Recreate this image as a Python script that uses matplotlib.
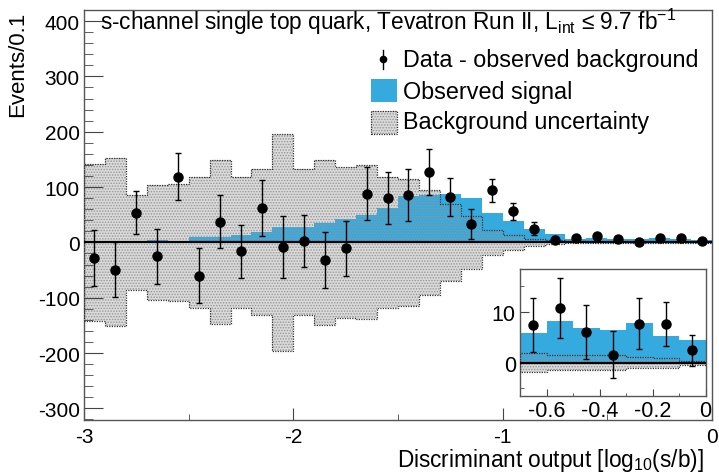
import numpy as np
import matplotlib
matplotlib.use('Agg')
import matplotlib.pyplot as plt
from matplotlib.patches import Rectangle
from matplotlib.lines import Line2D
from matplotlib.ticker import MultipleLocator, FixedLocator

plt.rcParams['font.family'] = ['Liberation Sans', 'DejaVu Sans']
plt.rcParams['mathtext.fontset'] = 'custom'
plt.rcParams['mathtext.rm'] = 'Liberation Sans'
plt.rcParams['mathtext.it'] = 'Liberation Sans:italic'
plt.rcParams['axes.unicode_minus'] = False
plt.rcParams['hatch.linewidth'] = 0.7

# 30 bins of 0.1 in log10(s/b), from -3 to 0
bin_edges = np.linspace(-3, 0, 31)
bin_centers = 0.5 * (bin_edges[:-1] + bin_edges[1:])

# observed signal (blue histogram)
signal = [0, 0, 0, 4, 3, 9, 9, 14, 18, 28,
          27, 34.5, 42, 50, 62, 83, 86, 87, 80, 53,
          38, 24, 15, 5.9, 8.2, 6.8, 6.3, 7.8, 5.3, 4.4]

# background uncertainty (+/- band)
bkg_unc = [142, 152, 86, 104, 106, 119, 148, 119, 132, 196,
           132, 149, 137, 139, 118, 115, 95, 69, 48, 23,
           13, 6, 3.5, 1.9, 1.5, 1.5, 1.5, 1.1, 1.0, 0.4]

# data - observed background
data = [-28, -49, 54, -25, 119, -60, 37, -16, 62, -8,
        2, -32, -11, 88, 81, 86, 127, 82, 34, 94,
        56, 25, 5, 7.4, 10.7, 6.0, 1.6, 7.6, 7.6, 2.4]
data_err = [50, 49, 38, 50, 43, 50, 48, 48, 50, 56,
            47, 50, 49, 48, 47, 47, 41, 35, 27, 21,
            15, 11, 7, 5.3, 5.8, 5.2, 4.5, 5.0, 4.3, 3.0]

blue = '#35aadf'
band_gray = '#dadada'

W, H = 719, 477
fig = plt.figure(figsize=(W / 100, H / 100), dpi=100)


def box(l, t, r, b):
    return [l / W, 1 - b / H, (r - l) / W, (b - t) / H]


def draw(a, first):
    e = bin_edges[first:]
    up = np.array(bkg_unc[first:])
    a.stairs(up, e, baseline=-up, fill=True, color=band_gray, lw=0, zorder=1)
    a.stairs(signal[first:], e, baseline=0, fill=True, color=blue, lw=0, zorder=2)
    a.stairs(up, e, baseline=-up, fill=True, facecolor='none', edgecolor='#959595',
             hatch='......', lw=0, zorder=3)
    a.stairs(up, e, baseline=-up, fill=False, color='#333333', lw=0.9,
             ls=(0, (1, 1)), zorder=4)
    a.axhline(0, color='black', lw=1.6, zorder=5)
    a.errorbar(bin_centers[first:], data[first:], yerr=data_err[first:], fmt='o',
               color='black', ms=6.5, elinewidth=1, capsize=2.5, capthick=1, zorder=6)


ax = fig.add_axes(box(84, 11, 712, 421))
draw(ax, 0)
ax.set_xlim(-3, 0)
ax.set_ylim(-321, 420)
ax.xaxis.set_major_locator(MultipleLocator(1))
ax.xaxis.set_minor_locator(MultipleLocator(0.5))
ax.yaxis.set_major_locator(MultipleLocator(100))
ax.yaxis.set_minor_locator(MultipleLocator(20))
ax.tick_params(which='both', direction='in', top=False, right=False,
               colors='#444444', labelcolor='black', labelsize=15)
ax.tick_params(axis='y', which='major', length=13.7, pad=3)
ax.tick_params(axis='y', which='minor', length=6.5)
ax.tick_params(axis='x', which='major', length=8.6, pad=5)
ax.tick_params(axis='x', which='minor', length=4.3)
for s in ax.spines.values():
    s.set_color('#555555')
    s.set_linewidth(1)

# inset: last seven bins
ins = fig.add_axes(box(520, 270, 705.5, 397))
ins.set_facecolor('white')
draw(ins, 23)
ins.set_xlim(-0.7, 0)
ins.set_ylim(-6.5, 18.3)
ins.xaxis.set_major_locator(FixedLocator([-0.6, -0.4, -0.2, 0]))
ins.xaxis.set_minor_locator(FixedLocator([-0.7, -0.5, -0.3, -0.1]))
ins.yaxis.set_major_locator(FixedLocator([0, 10]))
ins.yaxis.set_minor_locator(FixedLocator([-5, 5, 15]))
ins.set_xticklabels(['-0.6', '-0.4', '-0.2', '0'])
ins.set_yticklabels(['0', '10'])
ins.tick_params(which='both', direction='in', top=False, right=False,
                colors='#444444', labelcolor='black', labelsize=15.5)
ins.tick_params(axis='y', which='major', length=6.5, pad=3)
ins.tick_params(axis='y', which='minor', length=3)
ins.tick_params(axis='x', which='major', length=5, pad=3)
ins.tick_params(axis='x', which='minor', length=2.5)
for s in ins.spines.values():
    s.set_color('#555555')
    s.set_linewidth(1)

# title inside the frame
fig.text(100 / W, 1 - 30 / H,
         's-channel single top quark, Tevatron Run II, L$_{\\rm int}$ \u2264 9.7 fb$^{-1}$',
         ha='left', va='baseline', fontsize=16.3)

# legend, drawn by hand in ROOT style
fs_leg = 16.8
fig.add_artist(Line2D([383 / W, 383 / W], [1 - 51 / H, 1 - 70 / H], color='black', lw=1))
fig.add_artist(Line2D([383 / W], [1 - 60 / H], marker='o', ms=4.5, color='black'))
fig.text(403 / W, 1 - 60 / H, 'Data - observed background', ha='left', va='center', fontsize=fs_leg)
fig.add_artist(Rectangle((371 / W, 1 - 103 / H), 26 / W, 23 / H,
                         transform=fig.transFigure, facecolor=blue, edgecolor='none'))
fig.text(403 / W, 1 - 92 / H, 'Observed signal', ha='left', va='center', fontsize=fs_leg)
fig.add_artist(Rectangle((371 / W, 1 - 135 / H), 26 / W, 23 / H,
                         transform=fig.transFigure, facecolor=band_gray, edgecolor='none'))
fig.add_artist(Rectangle((371 / W, 1 - 135 / H), 26 / W, 23 / H,
                         transform=fig.transFigure, facecolor='none', edgecolor='#959595',
                         hatch='......', lw=0))
fig.add_artist(Rectangle((371 / W, 1 - 135 / H), 26 / W, 23 / H,
                         transform=fig.transFigure, facecolor='none', edgecolor='#333333',
                         lw=0.9, ls=(0, (1, 1))))
fig.text(403 / W, 1 - 123 / H, 'Background uncertainty', ha='left', va='center', fontsize=fs_leg)

# axis titles, ROOT style (aligned to the axis end)
fig.text(18 / W, 1 - 12 / H, 'Events/0.1', rotation=90, ha='center', va='top', fontsize=16)
fig.text(704 / W, 1 - 467 / H, 'Discriminant output [log$_{10}$(s/b)]',
         ha='right', va='baseline', fontsize=16.3)

fig.savefig('out.png', dpi=100)
